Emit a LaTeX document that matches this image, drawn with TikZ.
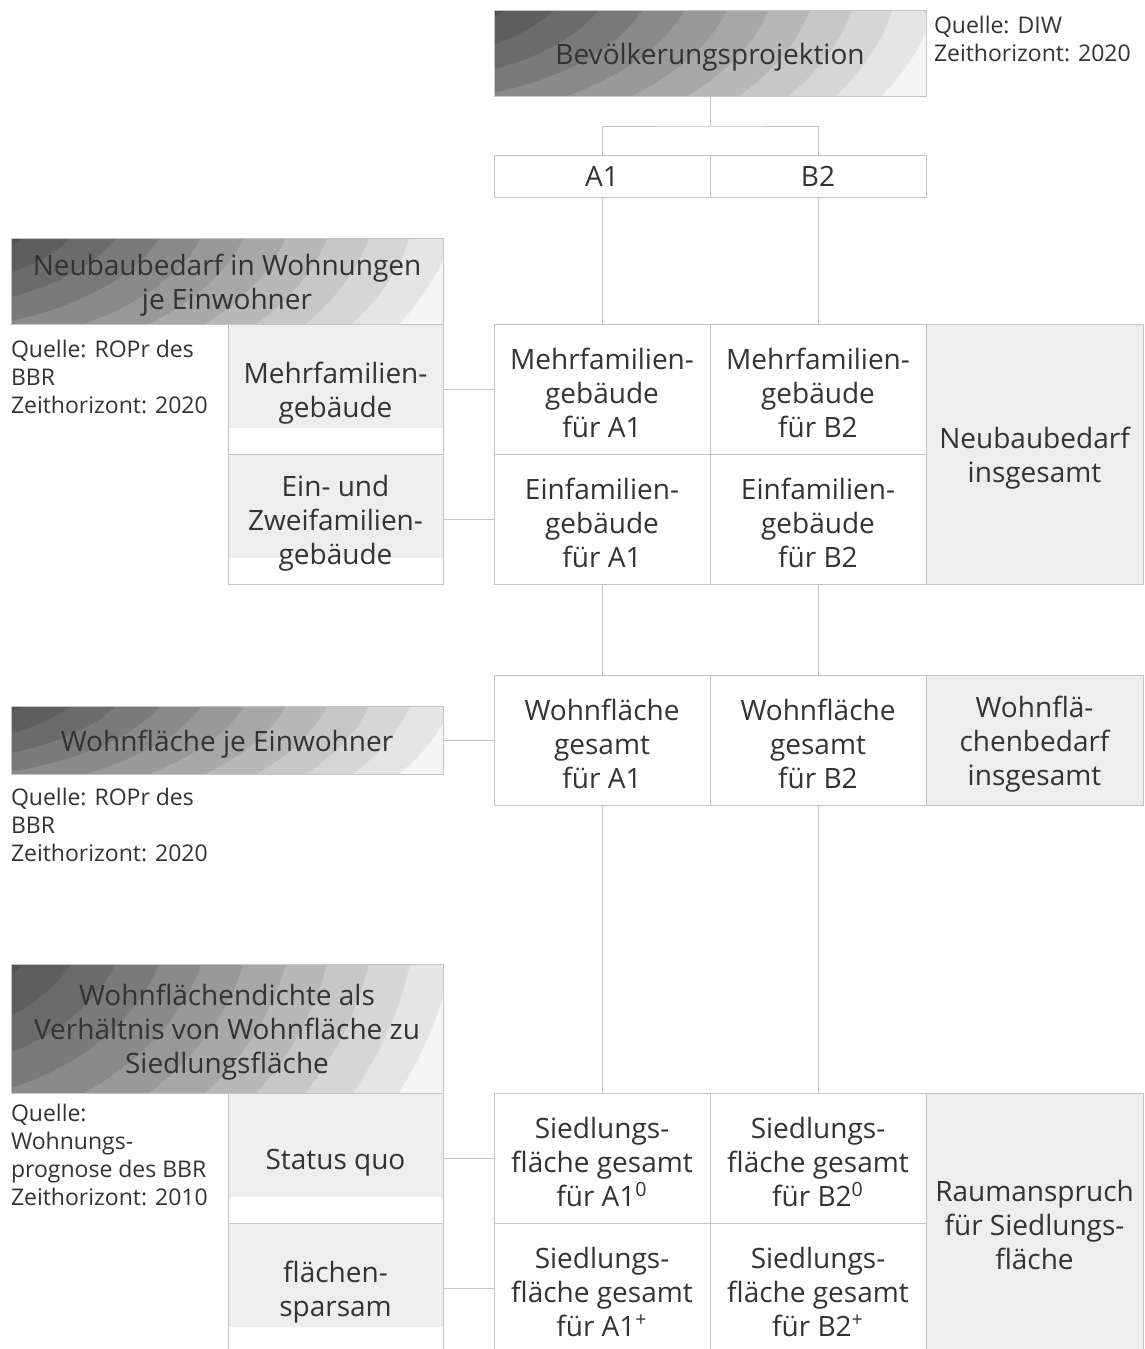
\documentclass[tikz,border=0pt]{standalone}
\usepackage{fontspec}
\setmainfont{Open Sans}
\usetikzlibrary{positioning}
\definecolor{linegray}{HTML}{C4C4C4}
\definecolor{boxgray}{HTML}{EEEEEE}
\definecolor{textgray}{HTML}{333333}
% banded grey ramp of the header boxes
\definecolor{hb0}{gray}{0.96}
\definecolor{hb1}{gray}{0.90}
\definecolor{hb2}{gray}{0.84}
\definecolor{hb3}{gray}{0.78}
\definecolor{hb4}{gray}{0.72}
\definecolor{hb5}{gray}{0.66}
\definecolor{hb6}{gray}{0.60}
\definecolor{hb7}{gray}{0.54}
\definecolor{hb8}{gray}{0.48}
\definecolor{hb9}{gray}{0.42}
\definecolor{hb10}{gray}{0.37}
\definecolor{hb11}{gray}{0.32}
\pgfdeclareradialshading{hdrbands}{\pgfpoint{0bp}{0bp}}{color(0bp)=(hb11); color(5.74bp)=(hb11);
  color(5.75bp)=(hb10); color(7.49bp)=(hb10); color(7.5bp)=(hb9); color(9.24bp)=(hb9);
  color(9.25bp)=(hb8); color(10.99bp)=(hb8); color(11bp)=(hb7); color(12.74bp)=(hb7);
  color(12.75bp)=(hb6); color(14.49bp)=(hb6); color(14.5bp)=(hb5); color(16.24bp)=(hb5);
  color(16.25bp)=(hb4); color(17.99bp)=(hb4); color(18bp)=(hb3); color(19.74bp)=(hb3);
  color(19.75bp)=(hb2); color(21.49bp)=(hb2); color(21.5bp)=(hb1); color(23.24bp)=(hb1);
  color(23.25bp)=(hb0); color(50bp)=(hb0)}

\begin{document}
\begin{tikzpicture}[x=0.5pt,y=-0.5pt,node distance=0pt,line width=0.5pt,
  every node/.style={text=textgray,outer sep=0pt},
  every edge/.style={draw=linegray},
  box/.style={draw=linegray,minimum width=108pt,minimum height=65pt,inner sep=0pt,align=center,font=\fontsize{14}{17}\selectfont},
  cell/.style={box,text height=48.6pt},
  twolines/.style={text height=31.6pt},
  oneline/.style={text height=14.6pt},
  sumcell/.style={cell,fill=boxgray,minimum width=108.5pt},
  subbox/.style={cell,minimum width=107.5pt,path picture={\fill[boxgray] (path picture bounding box.north west) rectangle ([yshift=13pt]path picture bounding box.south east);}},
  header/.style 2 args={cell,minimum width=216pt,
    path picture={\shade[shading=hdrbands] ([shift={(-47.5pt,#1)}]path picture bounding box.north west) ellipse [x radius=290.7pt,y radius=#2];}},
  source/.style={anchor=north west,inner sep=0pt,align=left,font=\fontsize{11.5}{14}\selectfont}]
\useasboundingbox (0,0) rectangle (1145,1349);

% projection and the two variants
\node[header={21.5pt}{153pt},oneline,minimum height=43pt] (bev) at (710,53) {Bevölkerungsprojektion};
\node[source] (diw) at (934,16) {Quelle: DIW\\Zeithorizont: 2020};
\node[box,minimum height=21pt] (a1) at (602,176) {A1};
\node[box,minimum height=21pt,right=of a1] (b2) {B2};

% new buildings
\node[cell] (mfa1) at (602,389) {Mehrfamilien-\\gebäude\\für A1};
\node[cell,right=of mfa1] (mfb2) {Mehrfamilien-\\gebäude\\für B2};
\node[cell,below=of mfa1] (efa1) {Einfamilien-\\gebäude\\für A1};
\node[cell,below=of mfb2] (efb2) {Einfamilien-\\gebäude\\für B2};
\node[sumcell,twolines,minimum height=130pt,anchor=north west] (nbsum) at (mfb2.north east) {Neubaubedarf\\insgesamt};

% living space
\node[cell] (wfa1) at (602,740) {Wohnfläche\\gesamt\\für A1};
\node[cell,right=of wfa1] (wfb2) {Wohnfläche\\gesamt\\für B2};
\node[sumcell,right=of wfb2] (wfsum) {Wohnflä-\\chenbedarf\\insgesamt};

% settlement area
\node[cell] (sfa1) at (602,1158) {Siedlungs-\\fläche gesamt\\für A1\textsuperscript{0}};
\node[cell,right=of sfa1] (sfb2) {Siedlungs-\\fläche gesamt\\für B2\textsuperscript{0}};
\node[cell,below=of sfa1] (sfa1p) {Siedlungs-\\fläche gesamt\\für A1\textsuperscript{+}};
\node[cell,below=of sfb2] (sfb2p) {Siedlungs-\\fläche gesamt\\für B2\textsuperscript{+}};
\node[sumcell,text height=46.6pt,minimum height=130pt,anchor=north west] (raum) at (sfb2.north east) {Raumanspruch\\für Siedlungs-\\fläche};

% inputs on the left
\node[header={21.5pt}{153pt},twolines,minimum height=43pt] (nbhead) at (227,281) {Neubaubedarf in Wohnungen\\je Einwohner};
\node[source] (src1) at (11,340) {Quelle: ROPr des\\BBR\\Zeithorizont: 2020};
\node[subbox,twolines,anchor=north east] (mf) at (nbhead.south east) {Mehrfamilien-\\gebäude};
\node[subbox,below=of mf] (ez) {Ein- und\\Zweifamilien-\\gebäude};

\node[header={17pt}{121pt},oneline,minimum height=34pt] (wfhead) at (227,740) {Wohnfläche je Einwohner};
\node[source] (src2) at (11,788) {Quelle: ROPr des\\BBR\\Zeithorizont: 2020};

\node[header={32.2pt}{229.6pt},minimum height=64.5pt] (wdhead) at (227,1028.5) {Wohnflächendichte als\\Verhältnis von Wohnfläche zu\\Siedlungsfläche};
\node[source] (src3) at (11,1104) {Quelle:\\Wohnungs-\\prognose des BBR\\Zeithorizont: 2010};
\node[subbox,oneline,anchor=north east] (sq) at (wdhead.south east) {Status quo};
\node[subbox,twolines,below=of sq] (fs) {flächen-\\sparsam};

% connectors
\draw[linegray] (bev.south) -- ++(0,30) coordinate (fork);
\draw[linegray] (a1.north) |- (fork) -| (b2.north);
\path (a1) edge (mfa1)
      (b2) edge (mfb2)
      (efa1) edge (wfa1)
      (efb2) edge (wfb2)
      (wfa1) edge (sfa1)
      (wfb2) edge (sfb2);
\path (mf) edge (mfa1)
      (ez) edge (efa1)
      (wfhead) edge (wfa1)
      (sq) edge (sfa1)
      (fs) edge (sfa1p);

\end{tikzpicture}
\end{document}
